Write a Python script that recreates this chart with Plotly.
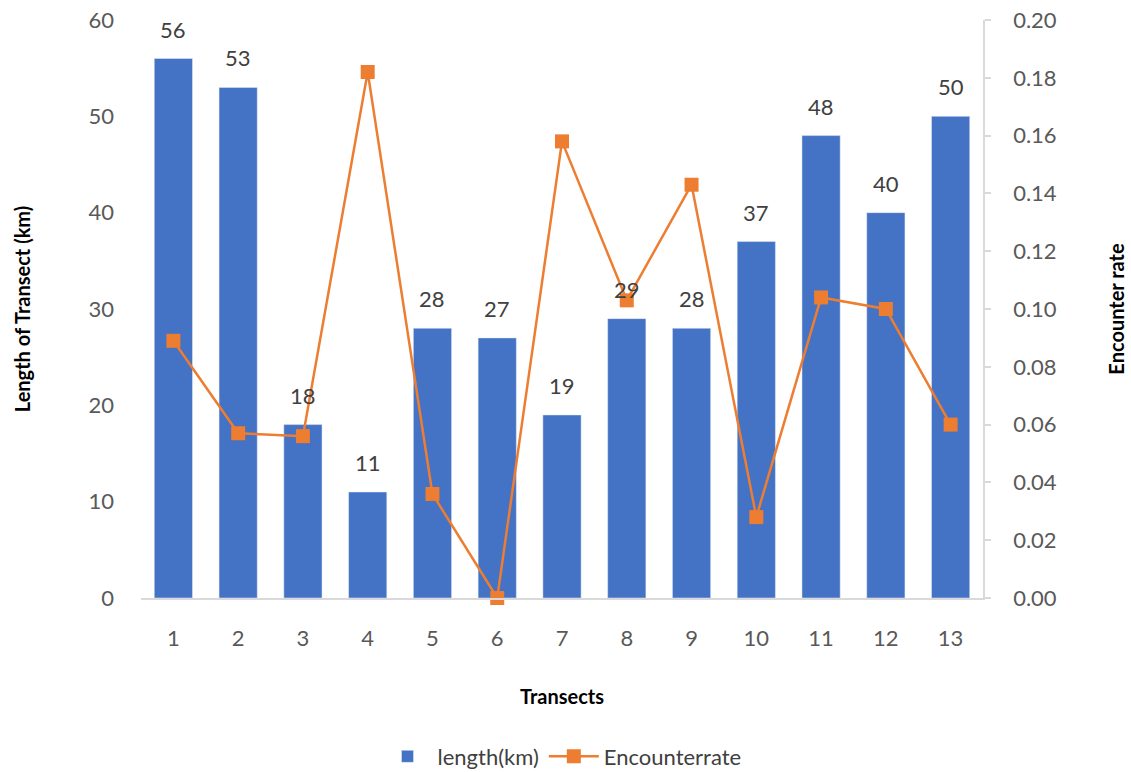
import plotly.graph_objects as go

transects = [str(i) for i in range(1, 14)]
length_km = [56, 53, 18, 11, 28, 27, 19, 29, 28, 37, 48, 40, 50]
encounter_rate = [0.089, 0.057, 0.056, 0.182, 0.036, 0.0, 0.158, 0.103,
                  0.143, 0.028, 0.104, 0.100, 0.060]

FONT = "Lato, 'Open Sans', sans-serif"
TICK_COLOR = "#595959"
TITLE_FONT = dict(size=20, color="#000000", family=FONT)

fig = go.Figure()
fig.add_trace(go.Bar(
    x=transects, y=length_km, name="length(km)",
    marker_color="#4472C4", width=0.59,
))
fig.add_trace(go.Scatter(
    x=transects, y=encounter_rate, name="Encounterrate", yaxis="y2",
    mode="lines+markers",
    line=dict(color="#ED7D31", width=2.5),
    marker=dict(symbol="square", size=14, color="#ED7D31"),
    cliponaxis=False,
))

# value labels above each bar (category axis: position given by category index)
for idx, v in enumerate(length_km):
    fig.add_annotation(
        x=idx, y=v, xref="x", yref="y", text=str(v), showarrow=False,
        yanchor="bottom", yshift=14,
        font=dict(size=22, color="#404040", family=FONT),
    )

fig.update_layout(
    width=1131, height=772,
    margin=dict(l=141, r=148, t=20, b=174),
    plot_bgcolor="white", paper_bgcolor="white",
    font=dict(family=FONT, size=22, color=TICK_COLOR),
    showlegend=True,
    legend=dict(orientation="h", x=0.5, xanchor="center",
                yref="container", y=0.02, yanchor="middle",
                font=dict(size=22, color="#404040"), itemwidth=50),
    xaxis=dict(
        type="category", range=[-0.5, len(transects) - 0.5],
        title=dict(text="<b>Transects</b>", font=TITLE_FONT, standoff=40),
        automargin=False,
        showline=True, linecolor="#d9d9d9", linewidth=1.5,
        showgrid=False, ticks="", ticklabelstandoff=20,
        tickfont=dict(size=22, color=TICK_COLOR),
    ),
    yaxis=dict(
        title=dict(text="<b>Length of Transect (km)</b>", font=TITLE_FONT, standoff=52),
        automargin=False,
        range=[0, 60], dtick=10, showgrid=False, zeroline=False, showline=False,
        ticks="", ticklabelstandoff=26,
        tickfont=dict(size=22, color=TICK_COLOR),
    ),
    yaxis2=dict(
        title=dict(text="<b>Encounter rate</b>", font=TITLE_FONT, standoff=54),
        automargin=False,
        overlaying="y", side="right", range=[0, 0.2], dtick=0.02, tickformat=".2f",
        showgrid=False, zeroline=False, showline=True, linecolor="#d9d9d9", linewidth=1.5,
        ticks="outside", ticklen=6, tickcolor="#d9d9d9", tickwidth=1.5,
        ticklabelstandoff=18,
        tickfont=dict(size=22, color=TICK_COLOR),
    ),
)

fig.write_html("out.html")
